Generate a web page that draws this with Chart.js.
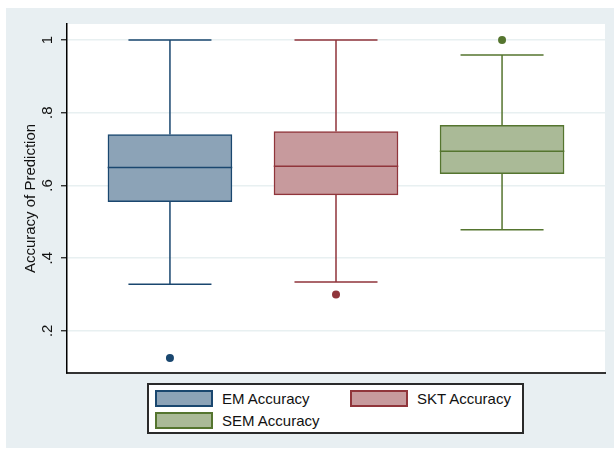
<!DOCTYPE html>
<html lang="en">
<head>
    <meta charset="UTF-8">
    <title>Accuracy of Prediction</title>
    <style>
        body {
            margin: 0;
            padding: 0;
            background-color: #FFFFFF;
            font-family: "Liberation Sans", Arial, sans-serif;
        }

        .page {
            position: relative;
            width: 614px;
            height: 450px;
            overflow: hidden;
        }

        .graph-region {
            position: absolute;
            left: 6px;
            top: 8px;
            width: 608px;
            height: 440px;
            background-color: #E8EFF2;
        }

        #boxChart {
            position: absolute;
            left: 0;
            top: 0;
        }

        .legend {
            position: absolute;
            left: 147px;
            top: 383px;
            width: 377px;
            height: 51px;
            box-sizing: border-box;
            border: 2px solid #2a2a2a;
            background-color: #FFFFFF;
        }

        .legend .item {
            position: absolute;
            height: 17px;
            line-height: 17px;
            font-size: 15px;
            color: #111;
            white-space: nowrap;
        }

        .legend .swatch {
            display: inline-block;
            width: 58px;
            height: 17px;
            box-sizing: border-box;
            border: 2px solid;
            vertical-align: top;
            margin-right: 9px;
        }
    </style>
</head>
<body>
    <div class="page">
        <div class="graph-region"></div>
        <canvas id="boxChart" width="614" height="450"></canvas>
        <div class="legend" id="legend"></div>
    </div>

    <script src="https://cdn.jsdelivr.net/npm/chart.js"></script>
    <script>
        // Data
        const categories = ['EM Accuracy', 'SKT Accuracy', 'SEM Accuracy'];
        const lowerWhisker = [0.328, 0.334, 0.478];
        const q1 = [0.555, 0.574, 0.632];
        const median = [0.649, 0.653, 0.694];
        const q3 = [0.740, 0.748, 0.765];
        const upperWhisker = [1.0, 1.0, 0.959];
        const outlierGroup = [1, 2, 3];
        const outlierValue = [0.125, 0.300, 1.0];

        const yTickValues = [0.2, 0.4, 0.6, 0.8, 1];
        const yTickLabels = ['.2', '.4', '.6', '.8', '1'];

        // Stata s2color: navy, maroon, forest_green
        const lineColors = ['rgb(26, 71, 111)', 'rgb(144, 53, 59)', 'rgb(85, 117, 47)'];
        const fillColors = ['rgb(140, 163, 183)', 'rgb(199, 154, 157)', 'rgb(170, 186, 151)'];

        const fontFamily = '"Liberation Sans", Arial, sans-serif';

        // white plot region
        const plotBackground = {
            id: 'plotBackground',
            beforeDraw(chart) {
                const a = chart.chartArea;
                const ctx = chart.ctx;
                ctx.save();
                ctx.fillStyle = '#FFFFFF';
                ctx.fillRect(a.left, a.top, a.right - a.left, a.bottom - a.top);
                ctx.restore();
            }
        };

        // whiskers, caps and median lines
        const boxLines = {
            id: 'boxLines',
            afterDatasetsDraw(chart) {
                const ctx = chart.ctx;
                const x = chart.scales.x;
                const y = chart.scales.y;
                ctx.save();
                ctx.lineWidth = 1.5;
                categories.forEach(function(c, i) {
                    const pos = i + 1;
                    const px = x.getPixelForValue(pos);
                    const capL = x.getPixelForValue(pos - 0.25);
                    const capR = x.getPixelForValue(pos + 0.25);
                    const boxL = x.getPixelForValue(pos - 0.375);
                    const boxR = x.getPixelForValue(pos + 0.375);
                    ctx.strokeStyle = lineColors[i];
                    ctx.beginPath();
                    ctx.moveTo(px, y.getPixelForValue(q3[i]));
                    ctx.lineTo(px, y.getPixelForValue(upperWhisker[i]));
                    ctx.moveTo(px, y.getPixelForValue(q1[i]));
                    ctx.lineTo(px, y.getPixelForValue(lowerWhisker[i]));
                    ctx.moveTo(capL, y.getPixelForValue(upperWhisker[i]));
                    ctx.lineTo(capR, y.getPixelForValue(upperWhisker[i]));
                    ctx.moveTo(capL, y.getPixelForValue(lowerWhisker[i]));
                    ctx.lineTo(capR, y.getPixelForValue(lowerWhisker[i]));
                    ctx.moveTo(boxL, y.getPixelForValue(median[i]));
                    ctx.lineTo(boxR, y.getPixelForValue(median[i]));
                    ctx.stroke();
                });
                ctx.restore();
            }
        };

        const ctx = document.getElementById('boxChart').getContext('2d');
        const boxChart = new Chart(ctx, {
            type: 'bar',
            data: {
                datasets: [{
                    label: 'Boxes',
                    data: categories.map(function(c, i) { return { x: i + 1, y: [q1[i], q3[i]] }; }),
                    backgroundColor: fillColors,
                    borderColor: lineColors,
                    borderWidth: 1.5,
                    borderSkipped: false,
                    barThickness: 124
                }, {
                    type: 'scatter',
                    label: 'Outliers',
                    data: outlierGroup.map(function(g, i) { return { x: g, y: outlierValue[i] }; }),
                    pointBackgroundColor: outlierGroup.map(function(g) { return lineColors[g - 1]; }),
                    pointBorderWidth: 0,
                    pointRadius: 4
                }]
            },
            options: {
                responsive: false,
                animation: false,
                layout: {
                    padding: { left: 0, top: 24, right: 9, bottom: 77 }
                },
                plugins: {
                    legend: { display: false },
                    tooltip: { enabled: false }
                },
                scales: {
                    x: {
                        type: 'linear',
                        offset: false,
                        min: 0.38,
                        max: 3.62,
                        ticks: { display: false },
                        grid: { display: false, drawTicks: false },
                        border: { display: true, color: '#333333', width: 2 },
                        afterFit: function(scale) { scale.height = 0; }
                    },
                    y: {
                        min: 0.084,
                        max: 1.044,
                        afterBuildTicks: function(scale) {
                            scale.ticks = yTickValues.map(function(v) { return { value: v }; });
                        },
                        afterFit: function(scale) { scale.width = 67; },
                        ticks: {
                            callback: function(value, index) { return yTickLabels[index]; },
                            minRotation: 90,
                            maxRotation: 90,
                            crossAlign: 'center',
                            padding: 7,
                            color: '#111',
                            font: { family: fontFamily, size: 15 }
                        },
                        grid: {
                            color: '#E8F0F1',
                            lineWidth: 1.5,
                            tickLength: 6,
                            tickColor: '#111',
                            tickWidth: 1.2
                        },
                        border: { display: true, color: '#000000', width: 1.5 },
                        title: {
                            display: true,
                            text: 'Accuracy of Prediction',
                            color: '#111',
                            padding: { top: 22, bottom: 0 },
                            font: { family: fontFamily, size: 15 }
                        }
                    }
                }
            },
            plugins: [plotBackground, boxLines]
        });

        // Stata-style legend: two columns inside a framed box
        const legendSlots = [
            { left: 6, top: 5 },
            { left: 201, top: 5 },
            { left: 6, top: 27 }
        ];
        const legend = document.getElementById('legend');
        categories.forEach(function(c, i) {
            const item = document.createElement('div');
            item.className = 'item';
            item.style.left = legendSlots[i].left + 'px';
            item.style.top = legendSlots[i].top + 'px';
            const sw = document.createElement('span');
            sw.className = 'swatch';
            sw.style.backgroundColor = fillColors[i];
            sw.style.borderColor = lineColors[i];
            item.appendChild(sw);
            item.appendChild(document.createTextNode(c));
            legend.appendChild(item);
        });
    </script>
</body>
</html>
